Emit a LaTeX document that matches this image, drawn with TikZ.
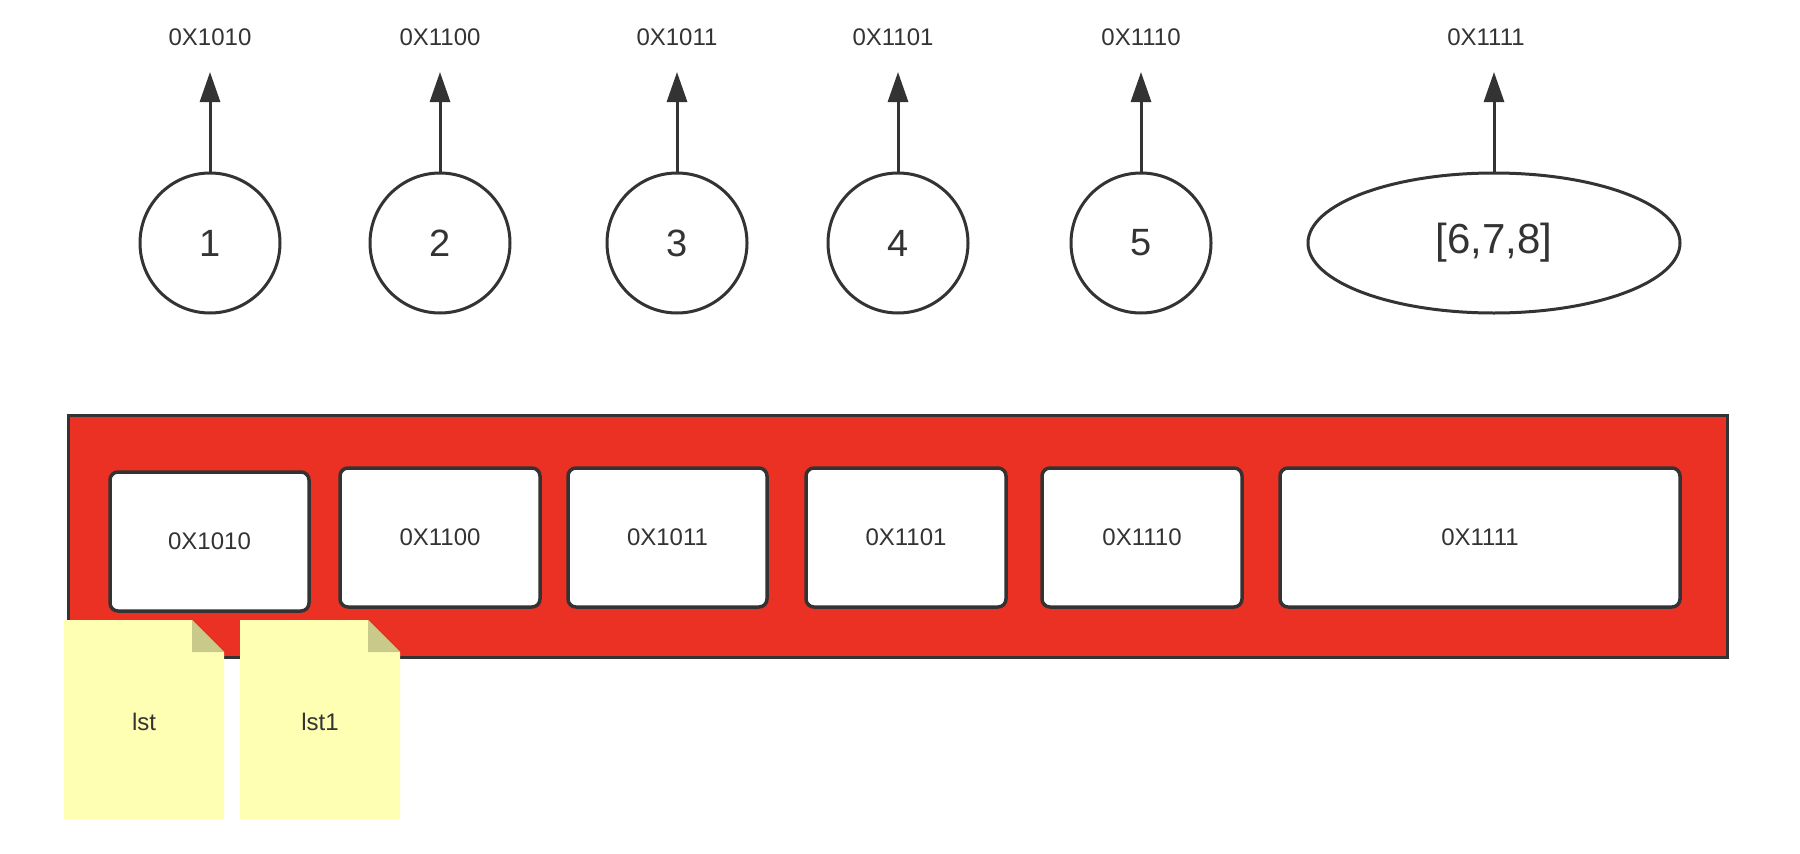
\documentclass[tikz,border=0pt]{standalone}
\usepackage{fontspec}
\setmainfont{Liberation Sans}
\usetikzlibrary{shapes.geometric,arrows.meta}
\definecolor{ink}{HTML}{333333}
\definecolor{redfill}{HTML}{EB3124}
\definecolor{notefill}{HTML}{FFFFB4}
\definecolor{notefold}{HTML}{C9C98A}
\tikzset{
  val/.style={circle,draw=ink,line width=3pt,fill=white,minimum size=140pt,inner sep=0pt,text=ink,font=\fontsize{38}{40}\selectfont},
  valell/.style={ellipse,draw=ink,line width=3pt,fill=white,minimum width=372pt,minimum height=140pt,inner sep=0pt,text=ink,font=\fontsize{42}{44}\selectfont},
  addr/.style={text=ink,font=\fontsize{24}{26}\selectfont,inner sep=0pt},
  slot/.style={rectangle,rounded corners=8pt,draw=ink,line width=3.5pt,fill=white,minimum height=139pt,text=ink,font=\fontsize{24}{26}\selectfont},
  arr/.style={draw=ink,line width=3pt,-{Triangle[length=30pt,width=20pt]}},
  notetext/.style={text=ink,font=\fontsize{24}{26}\selectfont,inner sep=0pt}
}
\begin{document}
\begin{tikzpicture}[x=1pt,y=-1pt]
\useasboundingbox (0,0) rectangle (1800,854);
% values
\node[val] (c1) at (210,243) {1};
\node[val] (c2) at (440,243) {2};
\node[val] (c3) at (677,243) {3};
\node[val] (c4) at (898,243) {4};
\node[val] (c5) at (1141,243) {5};
\node[valell] (c6) at (1494,243) {[6,7,8]};
% address labels
\node[addr] (a1) at (210,37) {0X1010};
\node[addr] (a2) at (440,37) {0X1100};
\node[addr] (a3) at (677,37) {0X1011};
\node[addr] (a4) at (893,37) {0X1101};
\node[addr] (a5) at (1141,37) {0X1110};
\node[addr] (a6) at (1486,37) {0X1111};
% arrow tips
\coordinate (t1) at (210,72);
\coordinate (t2) at (440,72);
\coordinate (t3) at (677,72);
\coordinate (t4) at (898,72);
\coordinate (t5) at (1141,72);
\coordinate (t6) at (1494,72);
\draw[arr] (c1.north) -- (t1);
\draw[arr] (c2.north) -- (t2);
\draw[arr] (c3.north) -- (t3);
\draw[arr] (c4.north) -- (t4);
\draw[arr] (c5.north) -- (t5);
\draw[arr] (c6.north) -- (t6);
% list container
\node[rectangle,draw=ink,line width=3pt,fill=redfill,minimum width=1659pt,minimum height=242pt,inner sep=0pt] (lst) at (897.5,536) {};
\node[slot,minimum width=199pt] (s1) at (209.5,541.5) {0X1010};
\node[slot,minimum width=200pt] (s2) at (440,537.5) {0X1100};
\node[slot,minimum width=199pt] (s3) at (667.5,537.5) {0X1011};
\node[slot,minimum width=200pt] (s4) at (906,537.5) {0X1101};
\node[slot,minimum width=200pt] (s5) at (1142,537.5) {0X1110};
\node[slot,minimum width=400pt] (s6) at (1480,537.5) {0X1111};
% notes
\fill[notefill] (64,620) -- (192,620) -- (224,652) -- (224,819) -- (64,819) -- cycle;
\fill[notefold] (192,620) -- (224,652) -- (192,652) -- cycle;
\node[notetext] (n1) at (144,722) {lst};
\fill[notefill] (240,620) -- (368,620) -- (400,652) -- (400,819) -- (240,819) -- cycle;
\fill[notefold] (368,620) -- (400,652) -- (368,652) -- cycle;
\node[notetext] (n2) at (320,722) {lst1};
\end{tikzpicture}
\end{document}
